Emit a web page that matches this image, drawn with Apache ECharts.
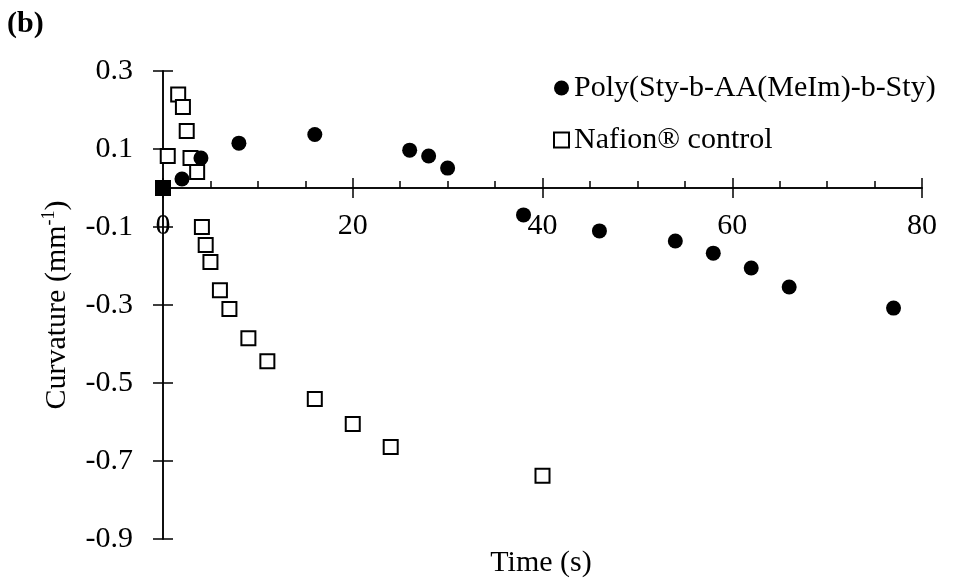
<!DOCTYPE html>
<html>
<head>
<meta charset="utf-8">
<script src="https://cdn.jsdelivr.net/npm/echarts@6/dist/echarts.min.js"></script>
<style>
  html, body { margin: 0; padding: 0; background: #fff; }
  #chartmain { width: 961px; height: 579px; }
</style>
</head>
<body>
<div id="chartmain"></div>
<script>
// Poly(Sty-b-AA(MeIm)-b-Sty) - filled circles
var polyTime = [0, 2, 4, 8, 16, 26, 28, 30, 38, 46, 54, 58, 62, 66, 77];
var polyCurv = [0, 0.023, 0.077, 0.115, 0.137, 0.097, 0.082, 0.051, -0.069, -0.110, -0.136, -0.167, -0.205, -0.254, -0.308];

// Nafion control - open squares
var nafTime = [0, 0.5, 1.6, 2.1, 2.5, 2.9, 3.6, 4.1, 4.5, 5.0, 6.0, 7.0, 9.0, 11.0, 16, 20, 24, 40];
var nafCurv = [0, 0.082, 0.240, 0.208, 0.146, 0.077, 0.041, -0.100, -0.146, -0.190, -0.262, -0.310, -0.385, -0.444, -0.541, -0.605, -0.664, -0.738];

var seriesNames = ["Poly(Sty-b-AA(MeIm)-b-Sty)", "Nafion® control"];

var font = "Liberation Serif";
var fs = 30;

// grid box (px)
var gridTop = 71, gridBottom = 40, chartH = 579;
var yMin = -0.9, yMax = 0.3;
// shift the labelled x axis up from the grid bottom to the y = 0 line
var plotH = chartH - gridTop - gridBottom;
var zeroOffset = -plotH * (0 - yMin) / (yMax - yMin);

function pairs(xs, ys) {
  var out = [];
  for (var i = 0; i < xs.length; i++) {
    out.push([xs[i], ys[i]]);
  }
  return out;
}

var nafData = pairs(nafTime, nafCurv);
// the point at the origin shows as a filled square
nafData[0] = { value: nafData[0], itemStyle: { color: "#000" } };

var lineStyle = { color: "#000", width: 1.5 };

option = {
  animation: false,
  backgroundColor: "#fff",
  title: {
    text: "(b)",
    left: 2,
    top: 4,
    textStyle: { fontFamily: font, fontWeight: "bold", fontSize: fs, color: "#000" }
  },
  graphic: [
    {
      type: "text",
      x: 541,
      y: 563,
      style: { text: "Time (s)", font: fs + "px " + font, fill: "#000", align: "center", verticalAlign: "middle" }
    }
  ],
  grid: { left: 163, right: 39, top: gridTop, bottom: gridBottom },
  legend: {
    orient: "vertical",
    left: 548,
    top: 68,
    itemGap: 22,
    itemWidth: 15,
    itemHeight: 15,
    data: seriesNames,
    textStyle: { fontFamily: font, fontSize: fs, color: "#000" }
  },
  // two axes on zero make the ticks cross the line: bottom one points down, top one points up
  xAxis: [
    {
      type: "value",
      position: "bottom",
      offset: zeroOffset,
      min: 0,
      max: 80,
      interval: 20,
      axisLine: { onZero: false, lineStyle: lineStyle },
      axisTick: { length: 10, lineStyle: lineStyle },
      axisLabel: { margin: 23, fontFamily: font, fontSize: fs, color: "#000" },
      splitLine: { show: false }
    },
    {
      type: "value",
      position: "top",
      min: 0,
      max: 80,
      interval: 20,
      axisLine: { onZero: true, lineStyle: lineStyle },
      axisTick: { length: 10, lineStyle: lineStyle },
      minorTick: { show: true, splitNumber: 4, length: 7, lineStyle: lineStyle },
      axisLabel: { show: false },
      splitLine: { show: false }
    }
  ],
  yAxis: [
    {
      type: "value",
      position: "left",
      min: yMin,
      max: yMax,
      interval: 0.2,
      name: "Curvature (mm{sup|-1})",
      nameLocation: "middle",
      nameGap: 80,
      nameTextStyle: {
        fontFamily: font,
        fontSize: fs,
        color: "#000",
        lineHeight: 34,
        rich: {
          sup: { fontFamily: font, fontSize: 18, color: "#000", verticalAlign: "top", lineHeight: 18 }
        }
      },
      axisLine: { onZero: true, lineStyle: lineStyle },
      axisTick: { length: 10, lineStyle: lineStyle },
      axisLabel: {
        margin: 30,
        fontFamily: font,
        fontSize: fs,
        color: "#000",
        formatter: function(v) {
          return v.toFixed(1);
        }
      },
      splitLine: { show: false }
    },
    {
      type: "value",
      position: "right",
      min: yMin,
      max: yMax,
      interval: 0.2,
      axisLine: { onZero: true, lineStyle: lineStyle },
      axisTick: { length: 10, lineStyle: lineStyle },
      axisLabel: { show: false },
      splitLine: { show: false }
    }
  ],
  series: [
    {
      name: seriesNames[1],
      type: "scatter",
      symbol: "rect",
      symbolSize: 14,
      itemStyle: { color: "#fff", borderColor: "#000", borderWidth: 2, opacity: 1 },
      data: nafData,
      z: 2
    },
    {
      name: seriesNames[0],
      type: "scatter",
      symbol: "circle",
      symbolSize: 15,
      itemStyle: { color: "#000", opacity: 1 },
      data: pairs(polyTime, polyCurv),
      z: 3
    }
  ]
};

var myChart = echarts.init(document.getElementById("chartmain"));
myChart.setOption(option);
</script>
</body>
</html>
